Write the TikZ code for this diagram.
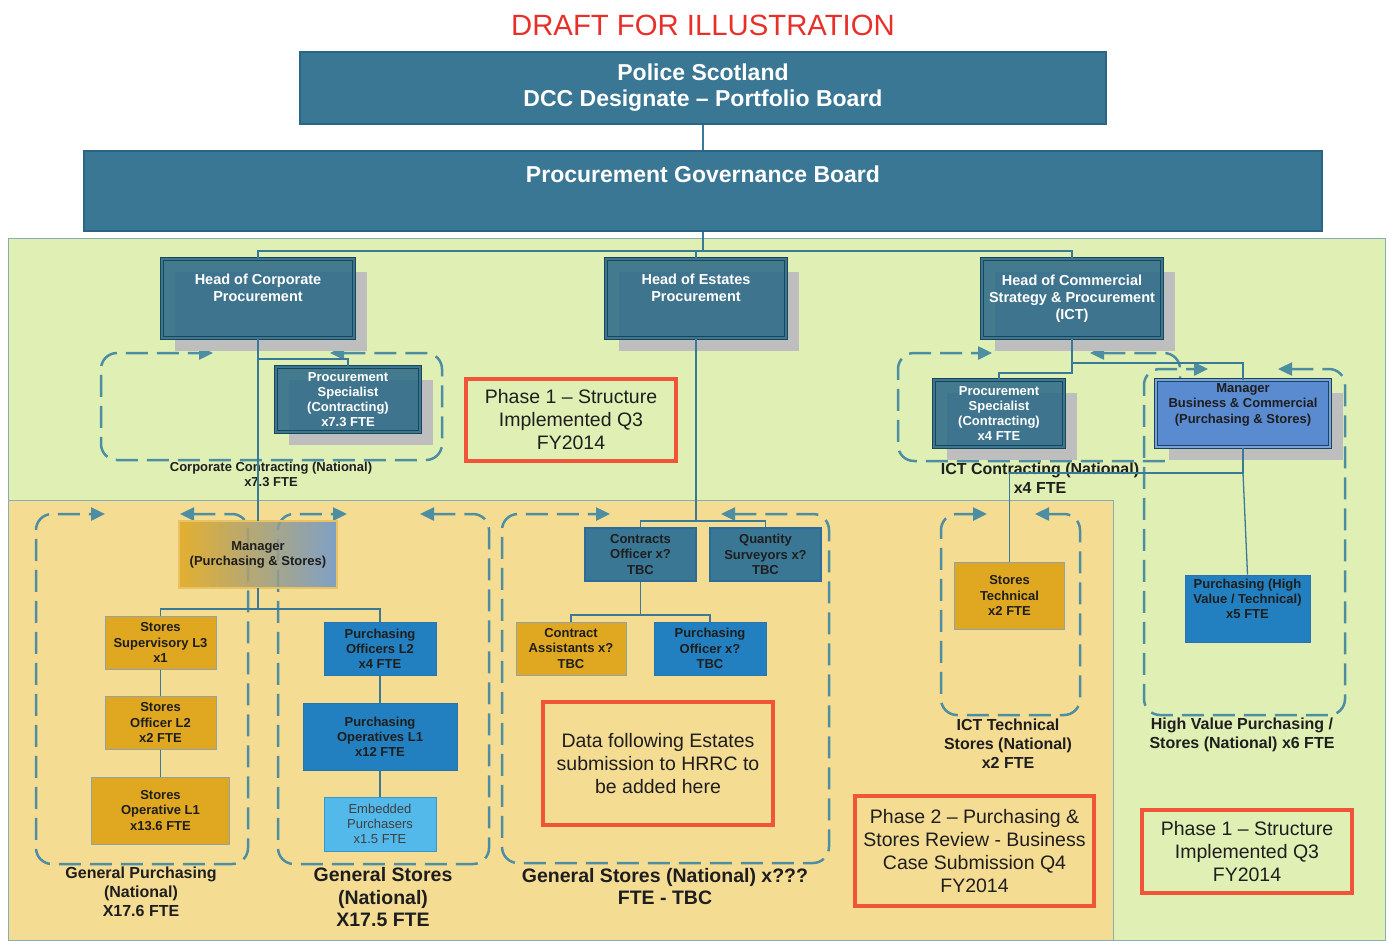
\documentclass[tikz,border=0pt]{standalone}
\usepackage{fontspec}
\setmainfont{Liberation Sans}
\usetikzlibrary{arrows.meta,shadows}
\definecolor{topfill}{HTML}{3A7794}
\definecolor{topdraw}{HTML}{2A6585}
\definecolor{headfill}{HTML}{2E6A88}
\definecolor{headdraw}{HTML}{1C4558}
\definecolor{gold}{HTML}{E0A820}
\definecolor{goldline}{HTML}{8FA3AE}
\definecolor{midblue}{HTML}{2280C0}
\definecolor{midblueline}{HTML}{2A74AE}
\definecolor{ltblue}{HTML}{52B9EA}
\definecolor{ltblueline}{HTML}{3C96C8}
\definecolor{mbcblue}{HTML}{5A8BD1}
\definecolor{mgrblue}{HTML}{6B96CF}
\definecolor{tealline}{HTML}{2C6C9C}
\definecolor{greenbg}{HTML}{E0F0B4}
\definecolor{orangebg}{HTML}{F5DC93}
\definecolor{regionline}{HTML}{86AEB6}
\definecolor{dashcol}{HTML}{4E8EA2}
\definecolor{conncol}{HTML}{3A7A98}
\definecolor{redline}{HTML}{F05539}
\definecolor{titlered}{HTML}{E8302A}
\definecolor{shadowgray}{HTML}{BEBEBE}
\definecolor{textdark}{HTML}{1E1E1E}
\newcommand\fnttop{\fontsize{23}{26}\selectfont\bfseries}
\newcommand\fnthead{\fontsize{14.5}{17}\selectfont\bfseries}
\newcommand\fntsmall{\fontsize{13}{15.2}\selectfont\bfseries}
\newcommand\fntsmallreg{\fontsize{13}{15.2}\selectfont}
\newcommand\fntmid{\fontsize{16}{19}\selectfont\bfseries}
\newcommand\fntbig{\fontsize{19.5}{22.5}\selectfont\bfseries}
\newcommand\fntred{\fontsize{19.5}{23}\selectfont}
\newcommand\dashgroup[6]{\draw[dgrp] (#6,#2) -- (#3,#2) -- (#3,#4) -- (#1,#4) -- (#1,#2) -- (#5,#2);}
\tikzset{
  topbox/.style={draw=topdraw, line width=1.5pt, fill=topfill, text=white, font=\fnttop, align=center, inner sep=0pt},
  hbase/.style={draw=headdraw, line width=1pt, double=topfill, double distance=1.6pt, fill=headfill, fill opacity=0.88, text opacity=1, text=white, align=center, inner sep=0pt,
    drop shadow={shadow xshift=13pt, shadow yshift=-13pt, fill=shadowgray, opacity=1}},
  headbox/.style={hbase, font=\fnthead},
  specbox/.style={hbase, font=\fntsmall},
  tealbox/.style={draw=tealline, line width=2pt, fill=topfill, text=textdark, font=\fntsmall, align=center, inner sep=0pt},
  goldbox/.style={draw=goldline, line width=1pt, fill=gold, text=textdark, font=\fntsmall, align=center, inner sep=0pt},
  bluebox/.style={draw=midblueline, line width=1pt, fill=midblue, text=textdark, font=\fntsmall, align=center, inner sep=0pt},
  ltbox/.style={draw=ltblueline, line width=1pt, fill=ltblue, text=textdark!85, font=\fntsmallreg, align=center, inner sep=0pt},
  mbcbox/.style={draw=headdraw, line width=1pt, double=mbcblue!80!white, double distance=1.4pt, fill=mbcblue, text=textdark, font=\fntsmall, align=center, inner sep=0pt,
    drop shadow={shadow xshift=13pt, shadow yshift=-13pt, fill=shadowgray, opacity=1}},
  mgrbox/.style={draw=goldline, line width=0.8pt, double=gold!70!white, double distance=1.2pt, left color=gold, right color=mgrblue, fill opacity=0.85, text opacity=1, text=textdark, font=\fntsmall, align=center, inner sep=0pt},
  redbox/.style={draw=redline, line width=3.5pt, text=textdark, font=\fntred, align=center, inner sep=0pt},
  grplabel/.style={text=textdark, align=center, inner sep=0pt},
  conn/.style={draw=conncol, line width=1.3pt},
  dgrp/.style={draw=dashcol, line width=2.5pt, dash pattern=on 22pt off 9pt, rounded corners=16pt,
    {Triangle[length=14pt,width=13pt]}-{Triangle[length=14pt,width=13pt]}},
}
\begin{document}
\begin{tikzpicture}[x=1pt,y=-1pt]
\useasboundingbox (0,0) rectangle (1389,940);
\fill[white] (0,0) rectangle (1389,940);

% regions
\draw[regionline, fill=greenbg, line width=1pt] (8,238) rectangle (1385,940);
\draw[regionline, fill=orangebg, line width=1pt] (8,500) rectangle (1113,940);

% title
\node[font=\fontsize{29.3}{34}\selectfont, text=titlered, inner sep=0pt] (title) at (703,25) {DRAFT FOR ILLUSTRATION};

% dashed groupings
\dashgroup{101}{353}{442}{460}{213}{330}
\dashgroup{898}{353}{1180}{461}{992}{1090}
\dashgroup{36}{514}{248}{864}{105}{180}
\dashgroup{278}{514}{489}{864}{347}{420}
\dashgroup{502}{514}{829}{863}{610}{721}
\dashgroup{941}{514}{1080}{715}{987}{1035}
\dashgroup{1144}{369}{1345}{715}{1208}{1278}

% top boards
\node[topbox, minimum width=806pt, minimum height=72pt] (ps) at (703,88) {Police Scotland\\DCC Designate -- Portfolio Board};
\node[topbox, minimum width=1238pt, minimum height=80pt, text depth=33pt] (pgb) at (703,191) {Procurement Governance Board};

% heads
\node[headbox, minimum width=192pt, minimum height=79pt, text depth=21pt] (hcp) at (258,298.5) {Head of Corporate\\Procurement};
\node[headbox, minimum width=180pt, minimum height=79pt, text depth=21pt] (hes) at (696,298.5) {Head of Estates\\Procurement};
\node[headbox, minimum width=180pt, minimum height=79pt] (hct) at (1072,298.5) {Head of Commercial\\Strategy \& Procurement\\(ICT)};

% specialists
\node[specbox, minimum width=144pt, minimum height=65pt] (psc) at (348,399.5) {Procurement\\Specialist\\(Contracting)\\x7.3 FTE};
\node[specbox, minimum width=130pt, minimum height=67pt] (psi) at (999,413.5) {Procurement\\Specialist\\(Contracting)\\x4 FTE};
\node[mbcbox, minimum width=174pt, minimum height=67pt, text depth=20pt] (mbc) at (1243,413.5) {Manager\\Business \& Commercial\\(Purchasing \& Stores)};

% general purchasing / stores
\node[mgrbox, minimum width=158pt, minimum height=67pt] (mps) at (258,554.5) {Manager\\(Purchasing \& Stores)};
\node[goldbox, minimum width=111pt, minimum height=53pt] (ssl) at (160.5,642.5) {Stores\\Supervisory L3\\x1};
\node[goldbox, minimum width=111pt, minimum height=53pt] (sol) at (160.5,722.5) {Stores\\Officer L2\\x2 FTE};
\node[goldbox, minimum width=138pt, minimum height=67pt] (sop) at (160.5,810.5) {Stores\\Operative L1\\x13.6 FTE};
\node[bluebox, minimum width=112pt, minimum height=53pt] (pol) at (380,648.5) {Purchasing\\Officers L2\\x4 FTE};
\node[bluebox, minimum width=154pt, minimum height=67pt] (pop) at (380,736.5) {Purchasing\\Operatives L1\\x12 FTE};
\node[ltbox, minimum width=112pt, minimum height=54pt] (emb) at (380,824) {Embedded\\Purchasers\\x1.5 FTE};

% estates
\node[tealbox, minimum width=111pt, minimum height=53pt] (co) at (640.5,554.5) {Contracts\\Officer x?\\TBC};
\node[tealbox, minimum width=111pt, minimum height=53pt] (qs) at (765.5,554.5) {Quantity\\Surveyors x?\\TBC};
\node[goldbox, minimum width=110pt, minimum height=53pt] (ca) at (571,648.5) {Contract\\Assistants x?\\TBC};
\node[bluebox, minimum width=112pt, minimum height=53pt] (po) at (710,648.5) {Purchasing\\Officer x?\\TBC};

% ICT / high value
\node[goldbox, minimum width=110pt, minimum height=67pt] (stt) at (1009.5,595.5) {Stores\\Technical\\x2 FTE};
\node[bluebox, minimum width=125pt, minimum height=67pt, text depth=20pt] (phv) at (1247.5,608.5) {Purchasing (High\\Value / Technical)\\x5 FTE};

% red notes
\node[redbox, minimum width=210pt, minimum height=82pt] (rp1) at (571,420) {Phase 1 -- Structure\\Implemented Q3\\FY2014};
\node[redbox, minimum width=230pt, minimum height=123pt] (rdata) at (658,763.5) {Data following Estates\\submission to HRRC to\\be added here};
\node[redbox, minimum width=239pt, minimum height=110pt] (rp2) at (974.5,851) {Phase 2 -- Purchasing \&\\Stores Review - Business\\Case Submission Q4\\FY2014};
\node[redbox, minimum width=210pt, minimum height=83pt] (rp1b) at (1247,851.5) {Phase 1 -- Structure\\Implemented Q3\\FY2014};

% group labels
\node[grplabel, font=\fntsmall] (lcc) at (271,474.5) {Corporate Contracting (National)\\x7.3 FTE};
\node[grplabel, font=\fntmid] (lic) at (1040,478.5) {ICT Contracting (National)\\x4 FTE};
\node[grplabel, font=\fntmid] (lgp) at (141,892) {General Purchasing\\(National)\\X17.6 FTE};
\node[grplabel, font=\fntbig] (lgs) at (383,897.5) {General Stores\\(National)\\X17.5 FTE};
\node[grplabel, font=\fntbig] (les) at (665,886.5) {General Stores (National) x???\\FTE - TBC};
\node[grplabel, font=\fntmid] (lit) at (1008,744) {ICT Technical\\Stores (National)\\x2 FTE};
\node[grplabel, font=\fntmid] (lhv) at (1242,734.5) {High Value Purchasing /\\Stores (National) x6 FTE};

% junction coordinates
\coordinate (j0) at (703,251);
\coordinate (jc) at (258,359);
\coordinate (jm) at (258,609);
\coordinate (je) at (696,521);
\coordinate (jco) at (640.5,615);
\coordinate (jt1) at (1072,363);
\coordinate (jt2) at (1072,373);
\coordinate (jb) at (1243,473);

% connectors
\draw[conn] (ps.south) -- (pgb.north);
\draw[conn] (pgb.south) -- (j0);
\draw[conn] (hcp.north) |- (j0) -| (hct.north);
\draw[conn] (hes.north) -- (hes.north |- j0);
\draw[conn] (hcp.south) -- (mps.north);
\draw[conn] (psc.north) |- (jc);
\draw[conn] (mps.south) -- (jm);
\draw[conn] (ssl.north) |- (jm) -| (pol.north);
\draw[conn] (ssl) -- (sol);
\draw[conn] (sol) -- (sop);
\draw[conn] (pol) -- (pop);
\draw[conn] (pop) -- (emb);
\draw[conn] (hes.south) -- (je);
\draw[conn] (co.north) |- (je) -| (qs.north);
\draw[conn] (co.south) -- (jco);
\draw[conn] (ca.north) |- (jco) -| (po.north);
\draw[conn] (hct.south) -- (jt2) -| (psi.north);
\draw[conn] (jt1) -| (mbc.north);
\draw[conn] (mbc.south) -- (jb) -| (stt.north);
\draw[conn] (jb) -- (phv.north);
\end{tikzpicture}
\end{document}
